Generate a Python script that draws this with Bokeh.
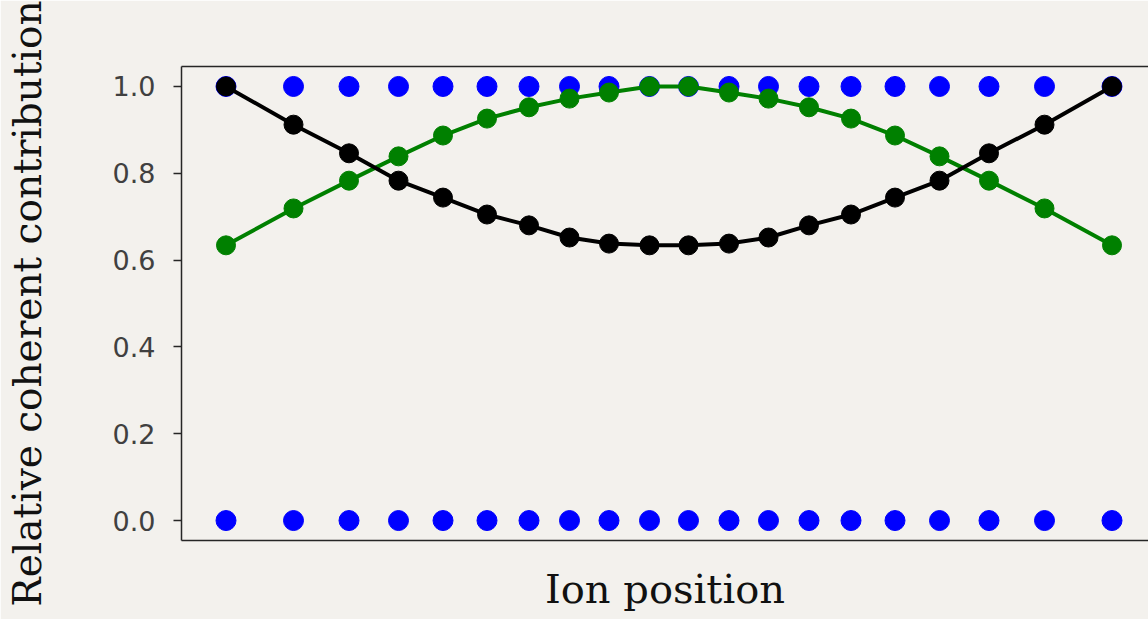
from bokeh.plotting import figure
from bokeh.models import Range1d, LinearAxis, FixedTicker, PrintfTickFormatter, ColumnDataSource
from bokeh.embed import file_html
from bokeh.resources import INLINE

# Ion positions along the chain (arbitrary length units, centred on 0)
ion_x = [-44.3, -37.55, -32.0, -27.05, -22.6, -18.2, -14.0, -9.95, -6.0, -1.95,
         1.95, 6.0, 9.95, 14.0, 18.2, 22.6, 27.05, 32.0, 37.55, 44.3]

# Reference rows of ion markers
ions_top = [1.0, 1.0, 1.0, 1.0, 1.0, 1.0, 1.0, 1.0, 1.0, 1.0,
            1.0, 1.0, 1.0, 1.0, 1.0, 1.0, 1.0, 1.0, 1.0, 1.0]
ions_bottom = [0.0, 0.0, 0.0, 0.0, 0.0, 0.0, 0.0, 0.0, 0.0, 0.0,
               0.0, 0.0, 0.0, 0.0, 0.0, 0.0, 0.0, 0.0, 0.0, 0.0]

# Relative coherent contributions per ion
green_vals = [0.634, 0.719, 0.783, 0.839, 0.887, 0.926, 0.952, 0.972, 0.986, 1.0,
              1.0, 0.986, 0.972, 0.952, 0.926, 0.887, 0.839, 0.783, 0.719, 0.634]
black_vals = [1.0, 0.912, 0.846, 0.783, 0.744, 0.705, 0.680, 0.652, 0.638, 0.634,
              0.634, 0.638, 0.652, 0.680, 0.705, 0.744, 0.783, 0.846, 0.912, 1.0]

y_ticks = [0.0, 0.2, 0.4, 0.6, 0.8, 1.0]

BG = "#f3f1ed"
SPINE = "#262626"

p = figure(width=1148, height=619, output_backend="svg", toolbar_location=None,
           x_range=Range1d(-48.75, 47.95), y_range=Range1d(-0.046, 1.046),
           min_border_left=181, min_border_right=0, min_border_top=66, min_border_bottom=79,
           background_fill_color=BG, border_fill_color=BG)
p.outline_line_color = None
p.grid.visible = False

# left axis
ya = p.yaxis[0]
ya.ticker = FixedTicker(ticks=y_ticks)
ya.formatter = PrintfTickFormatter(format="%.1f")
ya.axis_line_color = SPINE
ya.axis_line_width = 1.5
ya.major_tick_line_color = SPINE
ya.major_tick_line_width = 1.5
ya.major_tick_out = 8
ya.major_tick_in = 0
ya.minor_tick_line_color = None
ya.major_label_standoff = 18
ya.major_label_text_font = "DejaVu Sans"
ya.major_label_text_font_size = "27px"
ya.major_label_text_color = "#404040"
ya.axis_label = "Relative coherent contribution"
ya.axis_label_text_font = "DejaVu Serif"
ya.axis_label_text_font_style = "normal"
ya.axis_label_text_font_size = "39px"
ya.axis_label_text_color = "#111111"
ya.axis_label_standoff = 60

# bottom axis: spine only
xa = p.xaxis[0]
xa.ticker = FixedTicker(ticks=[])
xa.axis_line_color = SPINE
xa.axis_line_width = 1.5
xa.major_tick_line_color = None
xa.minor_tick_line_color = None
xa.major_label_text_font_size = "0px"
xa.axis_label = "Ion position"
xa.axis_label_text_font = "DejaVu Serif"
xa.axis_label_text_font_style = "normal"
xa.axis_label_text_font_size = "40px"
xa.axis_label_text_color = "#111111"
xa.axis_label_standoff = 25

# top spine
top = LinearAxis(ticker=FixedTicker(ticks=[]), axis_line_color=SPINE, axis_line_width=1.5,
                 major_tick_line_color=None, minor_tick_line_color=None,
                 major_label_text_font_size="0px")
p.add_layout(top, "above")

src = ColumnDataSource(dict(x=ion_x, top=ions_top, bottom=ions_bottom,
                            green=green_vals, black=black_vals))

p.scatter("x", "top", source=src, size=20, color="#0000ff")
p.scatter("x", "bottom", source=src, size=20, color="#0000ff")

p.line("x", "green", source=src, line_color="#008000", line_width=4)
p.scatter("x", "green", source=src, size=19, color="#008000")

p.line("x", "black", source=src, line_color="#000000", line_width=4)
p.scatter("x", "black", source=src, size=19, color="#000000")

open("out.html", "w").write(file_html(p, INLINE))
